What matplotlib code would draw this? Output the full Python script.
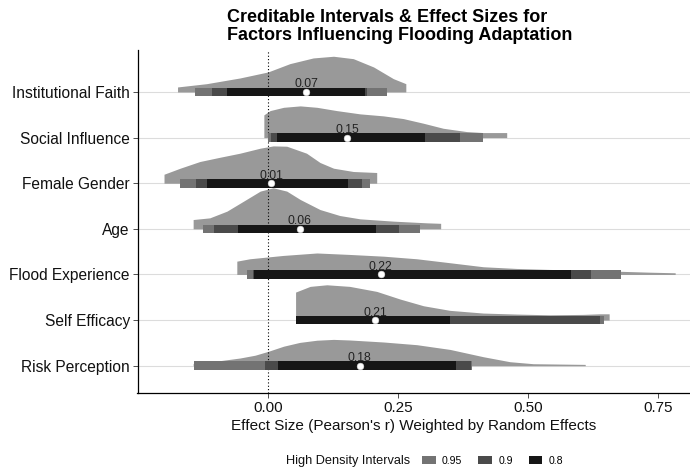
import matplotlib
matplotlib.use("Agg")
import matplotlib.pyplot as plt
from matplotlib.patches import Patch

plt.rcParams['font.family'] = ['Liberation Sans', 'DejaVu Sans']

# rows, bottom to top
factors = ['Risk Perception', 'Self Efficacy', 'Flood Experience', 'Age',
           'Female Gender', 'Social Influence', 'Institutional Faith']

# posterior point estimates (Pearson's r)
estimates = [0.176, 0.206, 0.217, 0.061, 0.006, 0.152, 0.073]

# high density intervals (lower, upper)
hdi_95 = [(-0.142, 0.393), (0.053, 0.647), (-0.041, 0.678), (-0.125, 0.292),
          (-0.169, 0.196), (-0.001, 0.414), (-0.141, 0.229)]
hdi_90 = [(-0.005, 0.391), (0.053, 0.638), (-0.029, 0.622), (-0.104, 0.251),
          (-0.138, 0.181), (0.005, 0.370), (-0.108, 0.190)]
hdi_80 = [(0.019, 0.361), (0.053, 0.349), (-0.027, 0.583), (-0.058, 0.208),
          (-0.117, 0.154), (0.018, 0.302), (-0.079, 0.187)]

# scaled posterior densities: grid of r values and slab heights
dens_x = [
    [-0.144, -0.10, -0.054, -0.025, 0.0, 0.03, 0.061, 0.094, 0.126, 0.157,
     0.222, 0.286, 0.35, 0.414, 0.465, 0.51, 0.61],
    [0.053, 0.081, 0.113, 0.157, 0.209, 0.254, 0.299, 0.35, 0.414, 0.478,
     0.542, 0.606, 0.638, 0.656],
    [-0.06, -0.035, 0.029, 0.094, 0.157, 0.222, 0.286, 0.35, 0.414, 0.478,
     0.542, 0.606, 0.67, 0.734, 0.783],
    [-0.144, -0.112, -0.079, -0.047, -0.015, 0.010, 0.036, 0.062, 0.1, 0.138,
     0.177, 0.241, 0.305, 0.332],
    [-0.2, -0.169, -0.131, -0.092, -0.054, -0.015, 0.010, 0.036, 0.074, 0.1,
     0.126, 0.164, 0.209],
    [-0.008, 0.004, 0.03, 0.062, 0.094, 0.132, 0.177, 0.222, 0.26, 0.299,
     0.337, 0.382, 0.414, 0.459],
    [-0.174, -0.118, -0.054, 0.0, 0.042, 0.087, 0.126, 0.164, 0.203, 0.241,
     0.265],
]
dens_h = [
    [0.05, 0.099, 0.169, 0.23, 0.314, 0.428, 0.511, 0.559, 0.577, 0.564,
     0.52, 0.461, 0.357, 0.197, 0.088, 0.044, 0.029],
    [0.614, 0.739, 0.774, 0.739, 0.629, 0.461, 0.314, 0.213, 0.154, 0.132,
     0.116, 0.125, 0.138, 0.138],
    [0.292, 0.344, 0.417, 0.471, 0.439, 0.401, 0.344, 0.257, 0.169, 0.132,
     0.11, 0.094, 0.072, 0.05, 0.037],
    [0.204, 0.241, 0.388, 0.607, 0.827, 0.9, 0.827, 0.643, 0.423, 0.292,
     0.219, 0.169, 0.132, 0.121],
    [0.197, 0.329, 0.476, 0.57, 0.658, 0.768, 0.818, 0.811, 0.658, 0.454,
     0.329, 0.257, 0.235],
    [0.498, 0.592, 0.664, 0.695, 0.664, 0.592, 0.52, 0.476, 0.417, 0.314,
     0.204, 0.132, 0.11, 0.11],
    [0.11, 0.182, 0.307, 0.439, 0.621, 0.746, 0.783, 0.73, 0.548, 0.292,
     0.182],
]

levels = ['0.95', '0.9', '0.8']
level_cols = ['#737373', '#4a4a4a', '#161616']
slab_col = '#999999'

fig = plt.figure(figsize=(6.9, 4.73), dpi=100)
ax = fig.add_axes([137.5 / 690, 80 / 473, 552.5 / 690, 343 / 473])

rows = list(range(1, len(factors) + 1))

for y in rows:
    ax.axhline(y, color='#dcdcdc', lw=0.8, zorder=0)

# half-eye slabs
for y, xs, hs in zip(rows, dens_x, dens_h):
    ax.fill_between(xs, [y] * len(xs), [y + h for h in hs],
                    color=slab_col, lw=0, zorder=1)

ax.axvline(0, color='black', ls=(0, (1, 2)), lw=0.8, zorder=2)

# interval bars, widest first
for ints, col in zip([hdi_95, hdi_90, hdi_80], level_cols):
    for y, (lo, hi) in zip(rows, ints):
        ax.barh(y, hi - lo, left=lo, height=0.19, color=col, lw=0, zorder=3)

ax.plot(estimates, rows, 'o', color='white', ms=4.8, mec='#dddddd',
        mew=0.4, zorder=5)
for y, est in zip(rows, estimates):
    ax.text(est, y + 0.1, f"{est:.2f}", ha='center', va='baseline',
            fontsize=8.8, color='#222222', zorder=4)

ax.set_xlim(-0.251, 0.8115)
ax.set_ylim(0.402, 7.92)
ax.set_yticks(rows)
ax.set_yticklabels(factors, fontsize=11.2, color='#111111')
ax.set_xticks([0, 0.25, 0.5, 0.75])
ax.set_xticklabels(['0.00', '0.25', '0.50', '0.75'], fontsize=11,
                   color='#111111')
ax.tick_params(length=3.5, width=0.6, color='#333333', pad=2)
for side in ['top', 'right']:
    ax.spines[side].set_visible(False)
for side in ['left', 'bottom']:
    ax.spines[side].set_linewidth(0.9)
ax.set_xlabel("Effect Size (Pearson's r) Weighted by Random Effects",
              fontsize=11, color='#111111', labelpad=3)

fig.text(227 / 690, 1 - 22.2 / 473,
         "Creditable Intervals & Effect Sizes for",
         fontsize=13, fontweight='bold', ha='left', va='baseline')
fig.text(227 / 690, 1 - 39.6 / 473,
         "Factors Influencing Flooding Adaptation",
         fontsize=13, fontweight='bold', ha='left', va='baseline')

# legend along the bottom
fig.text(286 / 690, 1 - 461 / 473, "High Density Intervals", fontsize=9.2,
         ha='left', va='center', color='#111111')
handles = [Patch(facecolor=c, edgecolor='none') for c in level_cols]
fig.legend(handles, levels, loc='center left',
           bbox_to_anchor=(422 / 690, 1 - 461 / 473), ncol=3, frameon=False,
           fontsize=7.6, handlelength=1.3, handleheight=0.75,
           handletextpad=0.6, columnspacing=1.5, borderpad=0,
           borderaxespad=0)

fig.savefig('out.png', dpi=100)
